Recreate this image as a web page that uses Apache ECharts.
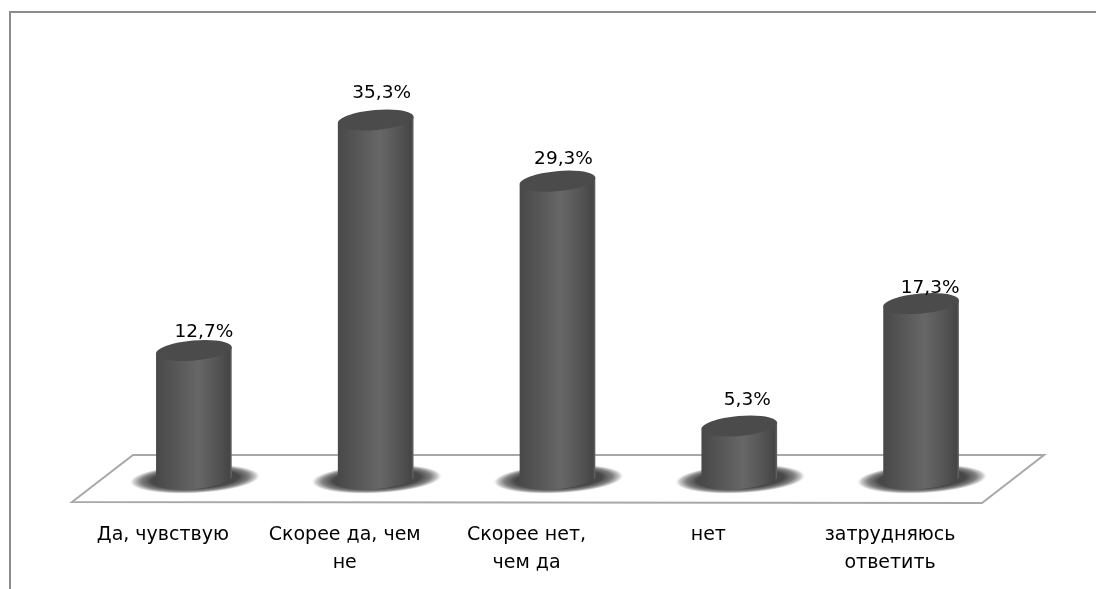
<!DOCTYPE html>
<html><head><meta charset="utf-8">
<style>html,body{margin:0;padding:0;background:#fff}#c{width:1096px;height:589px;filter:blur(0.5px)}</style>
<script src="https://cdn.jsdelivr.net/npm/echarts@6/dist/echarts.min.js"></script>
</head><body><div id="c"></div>
<script>
const categories = ['Да, чувствую', 'Скорее да, чем\nне', 'Скорее нет,\nчем да', 'нет', 'затрудняюсь\nответить'];
const values = [12.7, 35.3, 29.3, 5.3, 17.3];
const valueLabels = ['12,7%', '35,3%', '29,3%', '5,3%', '17,3%'];
// label placement relative to the top of each cylinder, in pixels
const labelDx = [10, 6, 6, 8, 9];
const labelDy = [-18, -27, -22, -26, -15];
const FONT = '"DejaVu Sans", sans-serif';

const TILT = -0.09, RY = 9;
function renderItem(params, api) {
  const i = params.dataIndex;
  const top = api.coord([api.value(0), api.value(1)]);
  const base = api.coord([api.value(0), 0]);
  const rx = api.size([1, 0])[0] * 0.209;
  const cx = top[0], yt = top[1], yb = base[1];
  const cos = Math.cos(TILT), sin = Math.sin(TILT);
  const pt = (cy, a) => [cx + rx * Math.cos(a) * cos - RY * Math.sin(a) * sin,
                         cy + rx * Math.cos(a) * sin + RY * Math.sin(a) * cos];
  const body = [];
  for (let k = 0; k <= 40; k++) body.push(pt(yb, Math.PI * k / 40));
  body.push(pt(yt, Math.PI), pt(yt, 0));
  return {
    type: 'group',
    children: [
      { type: 'circle', shape: { cx: cx + 1, cy: yb - 1, r: 66 }, scaleY: 0.22, rotation: 0.05, originX: cx + 1, originY: yb - 1,
        style: { fill: new echarts.graphic.RadialGradient(0.5, 0.5, 0.5, [
          { offset: 0, color: '#444444' }, { offset: 0.66, color: '#484848' },
          { offset: 0.82, color: '#808080' }, { offset: 0.93, color: '#d2d2d2' },
          { offset: 1, color: 'rgba(255,255,255,0)' }]) } },
      { type: 'polygon', shape: { points: body },
        style: { fill: new echarts.graphic.LinearGradient(0, 0, 1, 0, [
          { offset: 0, color: '#484848' }, { offset: 0.25, color: '#565656' },
          { offset: 0.55, color: '#676767' }, { offset: 0.82, color: '#535353' },
          { offset: 0.97, color: '#454545' }, { offset: 1, color: '#6a6a6a' }]) } },
      { type: 'ellipse', shape: { cx, cy: yt, rx, ry: RY + 1 }, rotation: -TILT, originX: cx, originY: yt,
        style: { fill: '#4b4b4b' } },
      { type: 'text', x: cx + labelDx[i], y: yt + labelDy[i],
        style: { text: valueLabels[i], fill: '#000', font: '18.5px ' + FONT, align: 'center', verticalAlign: 'middle' } }
    ]
  };
}

const chart = echarts.init(document.getElementById('c'), null, { renderer: 'canvas' });
chart.setOption({
  animation: false,
  backgroundColor: '#fff',
  grid: { left: 103, width: 909, top: 72, bottom: 109 },
  xAxis: {
    type: 'category', data: categories,
    axisLine: { show: false }, axisTick: { show: false },
    axisLabel: { interval: 0, margin: 41, color: '#000', fontFamily: FONT, fontSize: 19, lineHeight: 28,
      padding: [0, 62, 0, 0] }
  },
  yAxis: { type: 'value', min: 0, max: 40, show: false },
  graphic: [
    { type: 'polyline', silent: true, z: 0, shape: { points: [[10, 589], [10, 12], [1096, 12]] },
      style: { fill: 'none', stroke: '#8c8c8c', lineWidth: 2 } },
    { type: 'polygon', silent: true, z: 0, shape: { points: [[72, 502], [133, 455], [1044, 455], [982, 503]] },
      style: { fill: '#fff', stroke: '#a8a8a8', lineWidth: 2 } }
  ],
  series: [{
    type: 'custom', renderItem, clip: false,
    encode: { x: 0, y: 1 },
    data: values.map((v, i) => [i, v])
  }]
});
</script></body></html>
